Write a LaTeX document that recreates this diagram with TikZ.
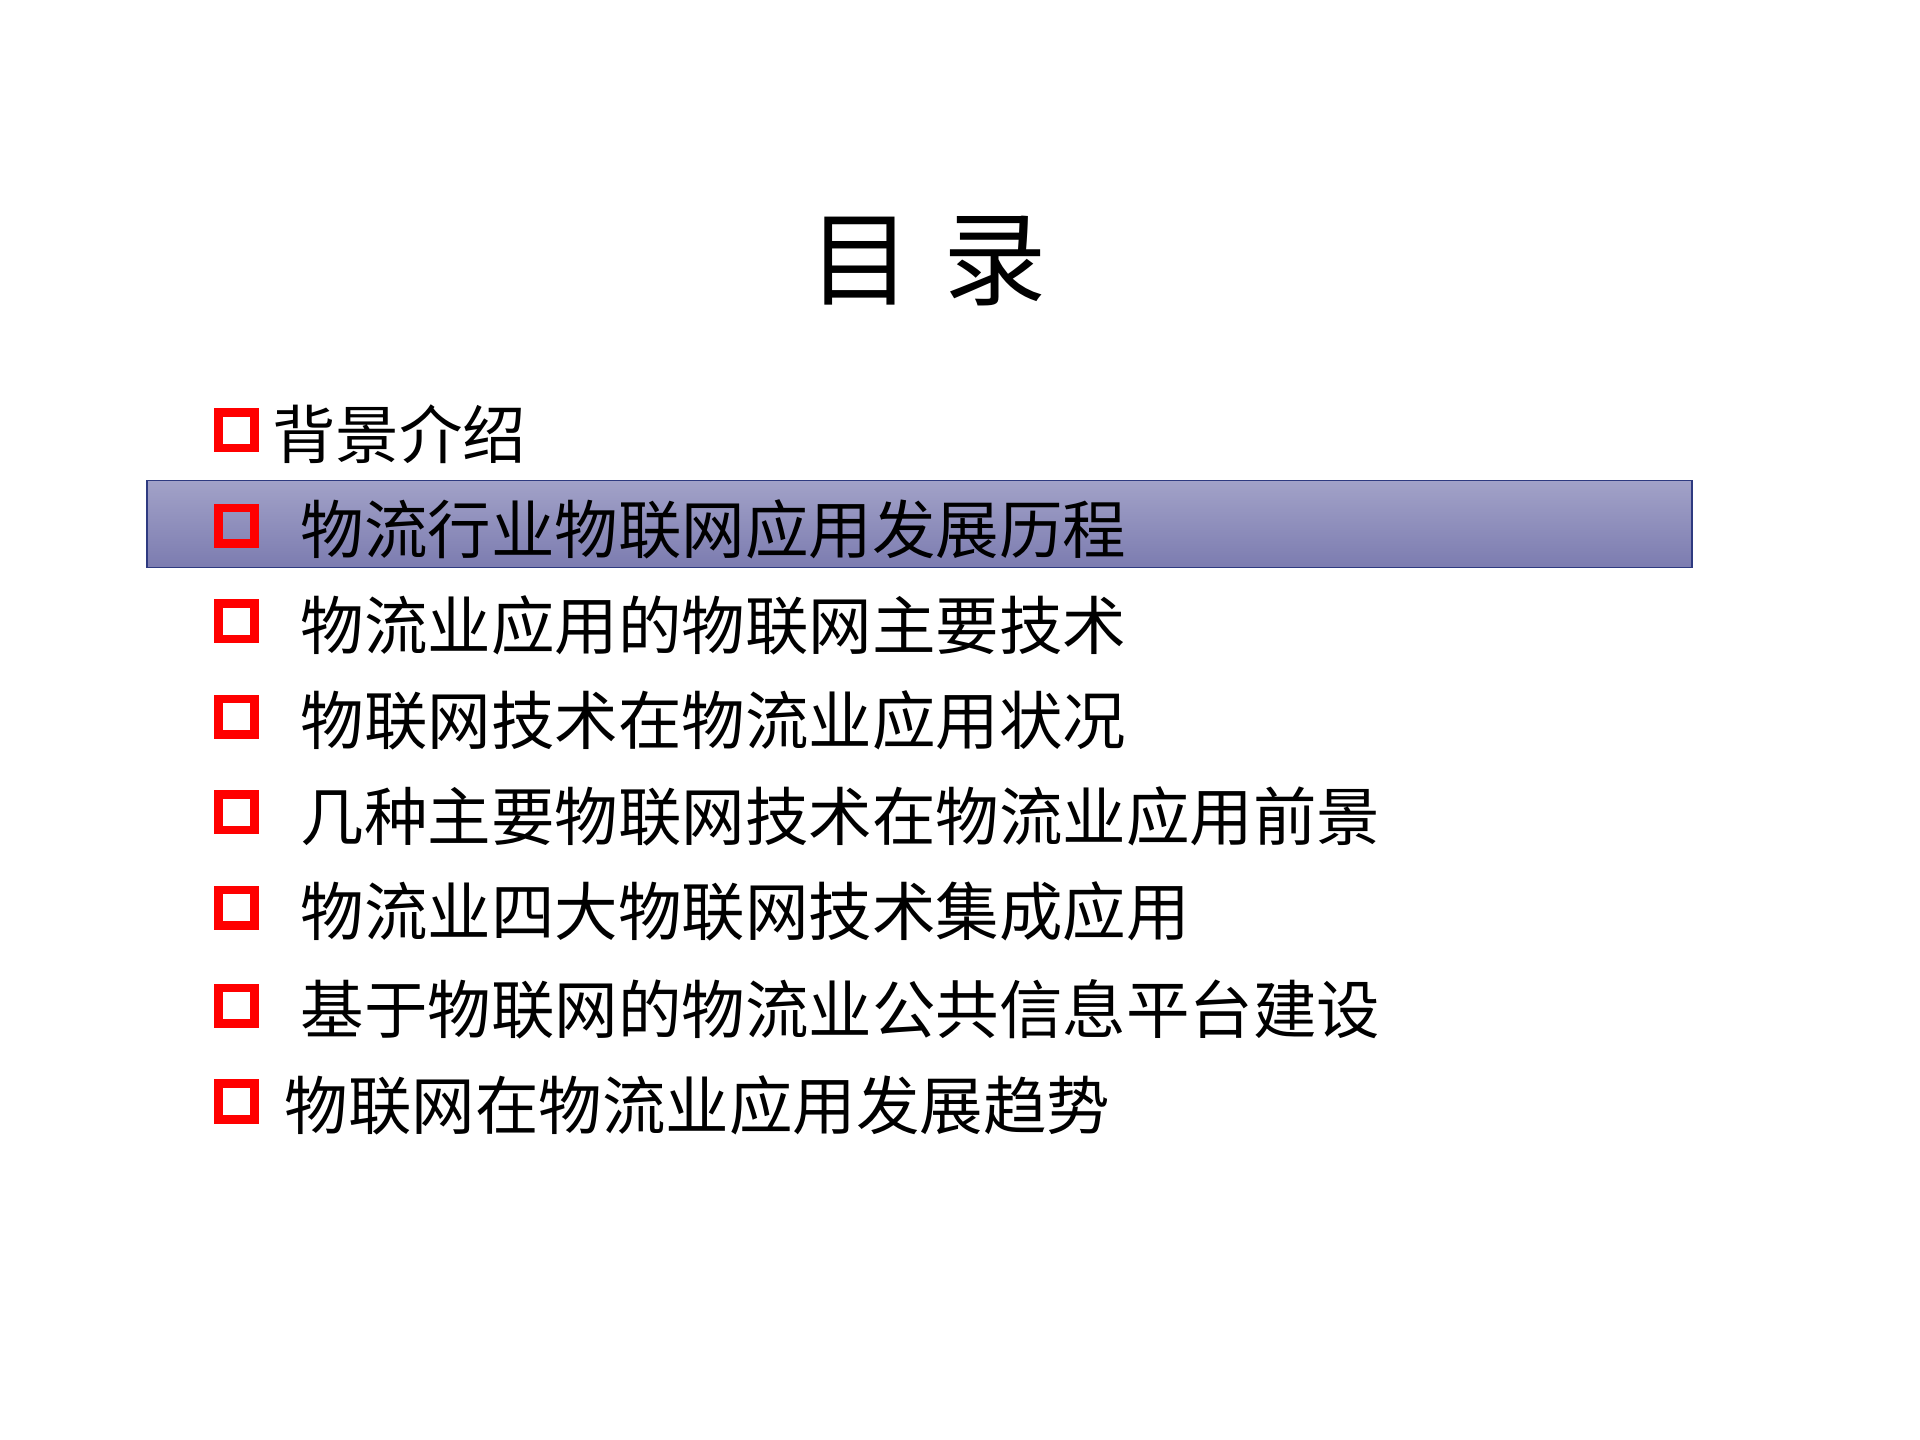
\documentclass[tikz,border=0pt]{standalone}
\usepackage{fontspec}
\setmainfont{Noto Sans CJK SC}
\newfontfamily\cjk{Noto Sans CJK SC}
\definecolor{bartop}{HTML}{A2A2C8}
\definecolor{barbot}{HTML}{7C7CB0}
\definecolor{barline}{HTML}{2E3A80}
\begin{document}
\begin{tikzpicture}[x=0.02cm,y=-0.02cm,
  sq/.style={draw=red,line width=0.14cm,minimum size=0.58cm,inner sep=0pt},
  item/.style={anchor=west,inner sep=0pt,font=\cjk\fontsize{29.5}{32}\selectfont}]
\useasboundingbox (0,0) rectangle (1567,1175);
\shade[top color=bartop,bottom color=barbot] (120,392) rectangle (1381,463);
\draw[barline,line width=0.6pt] (120,392) rectangle (1381,463);
\node[font=\cjk\fontsize{48}{54}\selectfont] (title) at (757,213) {目\hspace{0.3em}录};
\foreach \y/\xx/\t [count=\i] in {355/222/背景介绍,
  433/245/物流行业物联网应用发展历程,
  511/245/物流业应用的物联网主要技术,
  589/245/物联网技术在物流业应用状况,
  667/245/几种主要物联网技术在物流业应用前景,
  745/245/物流业四大物联网技术集成应用,
  825/245/基于物联网的物流业公共信息平台建设,
  903/232/物联网在物流业应用发展趋势}{
  \node[sq] (s\i) at (193,\y-4) {};
  \node[item] (t\i) at (\xx,\y-1) {\t};
}
\end{tikzpicture}
\end{document}
